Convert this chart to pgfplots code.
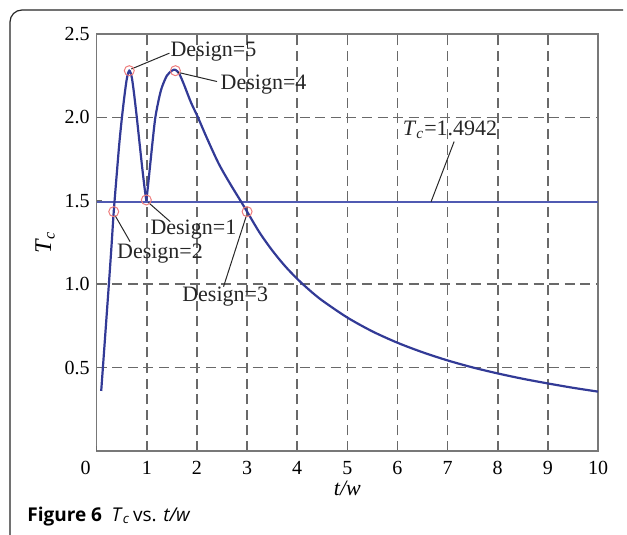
\documentclass[border=0pt]{standalone}
\usepackage{fontspec}
\setmainfont{Liberation Serif}
\newfontfamily\capfont{Open Sans}
\usepackage{pgfplots}
\pgfplotsset{compat=1.18}
\definecolor{curvec}{RGB}{50,58,150}
\definecolor{tcline}{RGB}{80,90,178}
\definecolor{gridc}{RGB}{105,105,105}
\definecolor{axc}{RGB}{120,120,120}
\definecolor{circ}{RGB}{238,125,125}
\definecolor{leader}{RGB}{40,40,40}
\begin{document}
\begin{tikzpicture}
\useasboundingbox (-48.35pt,-42pt) rectangle (265.15pt,225.5pt);
\draw[black!85, line width=0.6pt, rounded corners=6pt] (-43.35pt,-42pt) -- (-43.35pt,220.5pt) -- (263.15pt,220.5pt);
\begin{axis}[
  at={(0,0)}, anchor=south west, scale only axis,
  width=250.65pt, height=208.5pt,
  xmin=0, xmax=10, ymin=0, ymax=2.5,
  xtick={1,2,3,4,5,6,7,8,9,10},
  ytick={0.5,1.0,2.0,2.5},
  extra x ticks={0},
  extra x tick style={grid=none, xticklabel style={xshift=-5.5pt}},
  extra y ticks={1.5},
  extra y tick style={grid=none},
  grid=major,
  major grid style={gridc, dash pattern=on 5pt off 2.8pt, line width=0.8pt},
  axis line style={axc, line width=0.7pt},
  tick align=inside, tick pos=left, major tick length=2.5pt,
  tick style={gridc, line width=0.5pt},
  /pgf/number format/assume math mode=true,
  ticklabel style={font=\fontsize{10}{12}\selectfont},
  xticklabel style={anchor=center, yshift=-8.5pt},
  yticklabel style={/pgf/number format/.cd, fixed, fixed zerofill, precision=1},
  xlabel={\textit{t/w}},
  ylabel={\textit{T}\textsubscript{\textit{c}}},
  xlabel style={at={(axis description cs:0.5,-0.0887)}, anchor=center, font=\fontsize{11}{13}\selectfont},
  ylabel style={at={(axis description cs:-0.103,0.5)}, anchor=center, font=\fontsize{12}{14}\selectfont},
  clip=false,
]
\addplot[tcline, line width=0.75pt] coordinates {(0,1.4942)(10,1.4942)};
\addplot[curvec, line width=1.1pt, smooth, tension=0.5] coordinates {
(0.09,0.36)(0.15,0.61)(0.2,0.82)(0.25,1.03)(0.3,1.25)(0.34,1.435)(0.4,1.66)(0.45,1.84)(0.5,1.99)(0.55,2.12)(0.6,2.23)(0.65,2.28)(0.7,2.24)(0.75,2.13)(0.8,2.0)(0.85,1.86)(0.9,1.72)(0.95,1.59)(0.99,1.50)};
\addplot[curvec, line width=1.1pt, smooth, tension=0.5] coordinates {
(0.99,1.50)(1.02,1.58)(1.07,1.725)(1.12,1.87)(1.17,2.0)(1.24,2.11)(1.3,2.18)(1.4,2.25)(1.5,2.28)(1.57,2.285)(1.65,2.26)(1.75,2.19)(1.88,2.09)(2.02,2.0)(2.2,1.875)(2.43,1.725)(2.65,1.608)(2.89,1.49)(3.0,1.435)(3.25,1.309)(3.5,1.203)(3.75,1.111)(4.0,1.032)(4.25,0.963)(4.5,0.902)(5,0.80)(5.5,0.717)(6,0.649)(6.5,0.592)(7,0.543)(7.5,0.501)(8,0.465)(8.5,0.433)(9,0.405)(9.5,0.379)(10,0.356)};
\addplot[only marks, mark=o, mark size=2.5pt, mark options={circ, line width=0.5pt}] coordinates {(0.34,1.435)(0.65,2.28)(0.99,1.505)(1.57,2.28)(3.0,1.435)};
\draw[leader, line width=0.5pt] (axis cs:0.69,2.29) -- (axis cs:1.45,2.385);
\draw[leader, line width=0.5pt] (axis cs:1.62,2.27) -- (axis cs:2.4,2.215);
\draw[leader, line width=0.5pt] (axis cs:1.03,1.49) -- (axis cs:1.466,1.375);
\draw[leader, line width=0.5pt] (axis cs:0.37,1.41) -- (axis cs:0.666,1.255);
\draw[leader, line width=0.5pt] (axis cs:2.98,1.405) -- (axis cs:2.53,0.985);
\draw[leader, line width=0.5pt] (axis cs:7.13,1.855) -- (axis cs:6.67,1.4942);
\tikzset{ann/.style={anchor=west, inner sep=0pt, font=\fontsize{11}{13}\selectfont, text=black!85}}
\node[ann] at (axis cs:1.466,2.392) {Design=5};
\node[ann] at (axis cs:2.466,2.194) {Design=4};
\node[ann] at (axis cs:1.066,1.325) {Design=1};
\node[ann] at (axis cs:0.40,1.181) {Design=2};
\node[ann] at (axis cs:1.70,0.925) {Design=3};
\node[ann] at (axis cs:6.10,1.925) {\textit{T}\textsubscript{\textit{c}}=1.4942};
\end{axis}
\node[anchor=base west, inner sep=0pt, font=\capfont\fontsize{9.5}{11}\selectfont] at (-34.85pt,-35.35pt) {\textbf{Figure 6}\enspace\textit{T}\textsubscript{\textit{c}}\,vs. \textit{t/w}};
\end{tikzpicture}
\end{document}
